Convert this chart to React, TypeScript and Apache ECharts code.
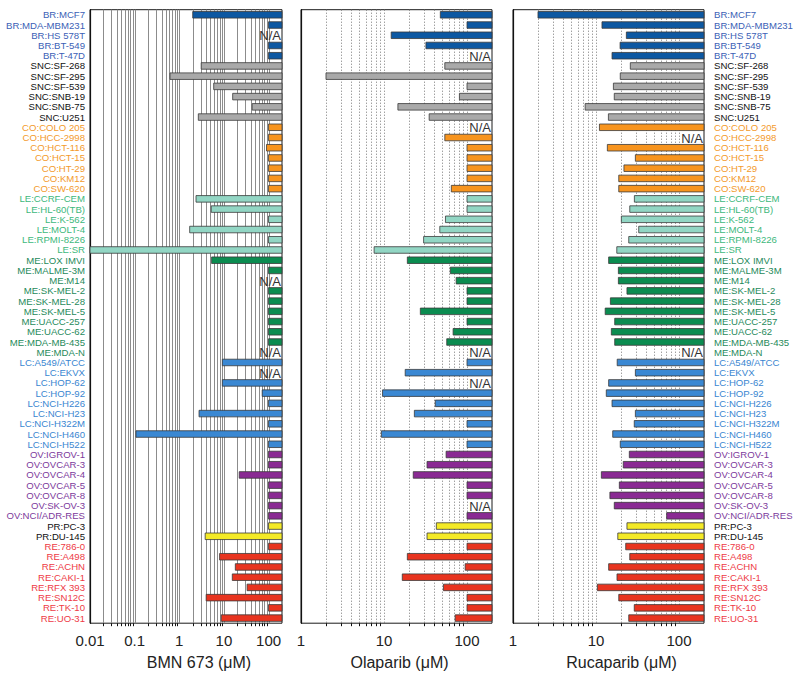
import React, { useEffect, useRef } from "react";
import * as echarts from "echarts";

const CELL_LINES = [
  "BR:MCF7", "BR:MDA-MBM231", "BR:HS 578T", "BR:BT-549", "BR:T-47D",
  "SNC:SF-268", "SNC:SF-295", "SNC:SF-539", "SNC:SNB-19", "SNC:SNB-75", "SNC:U251",
  "CO:COLO 205", "CO:HCC-2998", "CO:HCT-116", "CO:HCT-15", "CO:HT-29", "CO:KM12", "CO:SW-620",
  "LE:CCRF-CEM", "LE:HL-60(TB)", "LE:K-562", "LE:MOLT-4", "LE:RPMI-8226", "LE:SR",
  "ME:LOX IMVI", "ME:MALME-3M", "ME:M14", "ME:SK-MEL-2", "ME:SK-MEL-28", "ME:SK-MEL-5",
  "ME:UACC-257", "ME:UACC-62", "ME:MDA-MB-435", "ME:MDA-N",
  "LC:A549/ATCC", "LC:EKVX", "LC:HOP-62", "LC:HOP-92", "LC:NCI-H226", "LC:NCI-H23",
  "LC:NCI-H322M", "LC:NCI-H460", "LC:NCI-H522",
  "OV:IGROV-1", "OV:OVCAR-3", "OV:OVCAR-4", "OV:OVCAR-5", "OV:OVCAR-8", "OV:SK-OV-3", "OV:NCI/ADR-RES",
  "PR:PC-3", "PR:DU-145",
  "RE:786-0", "RE:A498", "RE:ACHN", "RE:CAKI-1", "RE:RFX 393", "RE:SN12C", "RE:TK-10", "RE:UO-31",
];

// IC50 (µM); null = N/A; 100 = inactive (>=100)
const BMN673 = [
  2, 100, null, 100, 100,
  3.1, 0.62, 5.9, 15.7, 43, 2.67,
  100, 100, 90, 100, 100, 100, 100,
  2.37, 5.2, 100, 1.71, 100, 0.01,
  5.3, 100, null, 100, 100, 100, 100, 100, 100, null,
  9.2, null, 9.2, 72, 100, 2.77, 100, 0.107, 100,
  100, 100, 22, 100, 100, 100, 100,
  100, 3.8,
  100, 8.0, 18, 15.4, 33, 4.0, 100, 8.7,
];
const OLAPARIB = [
  47.7, 100, 12.2, 32, null,
  54, 2, 100, 81, 14.7, 35,
  null, 54, 100, 100, 100, 100, 64.7,
  100, 100, 55, 47, 30, 7.6,
  19.1, 63, 74, 100, 100, 27.4, 100, 68, 57, null,
  100, 18, null, 9.6, 41.5, 23.2, 100, 9.3, 100,
  56, 33, 22.5, 100, 100, null, 100,
  42.7, 33,
  100, 19.1, 95, 16.6, 52, 100, 100, 72,
];
const RUCAPARIB = [
  2, 11.8, 23.2, 19.5, 15.6,
  25.9, 19.6, 16.2, 16.6, 7.4, 14.1,
  11, null, 13.7, 29.8, 21.7, 18.8, 18.8,
  29, 25.5, 20.2, 32.7, 24.8, 17.8,
  14.2, 18.6, 18.6, 23.6, 14.9, 12.9, 16.8, 15.3, 16.8, null,
  18, 29.8, 14.2, 13.3, 15.6, 29.8, 28.9, 15.9, 19.6,
  25.2, 21.3, 11.6, 19.1, 14.7, 16.6, 71,
  23.6, 18.3,
  22.8, 25.5, 14.2, 17.9, 10.4, 18.8, 28.9, 24.8,
];

const PANEL_NAMES = ["BMN 673 (\u03bcM)", "Olaparib (\u03bcM)", "Rucaparib (\u03bcM)"];
const PANEL_MIN = [0.01, 1, 1];
const AXIS_MAX = 200;
const MANTISSAS = [1, 2, 3, 4, 5, 6, 7, 8, 9];

const BAR_COLORS: Record<string, string> = {
  BR: "#0d58a2", SNC: "#a9a9a9", CO: "#f7941e", LE: "#92d6c4", ME: "#0b8c50",
  LC: "#3a88d3", OV: "#8a2a93", PR: "#f4ea26", RE: "#e8341f",
};
const LABEL_COLORS: Record<string, string> = {
  BR: "#3c5fb6", SNC: "#111111", CO: "#f39a2c", LE: "#3db87c", ME: "#1f8a5b",
  LC: "#3a86d1", OV: "#7d3a9c", PR: "#111111", RE: "#ee3a46",
};

const groupOf = (name: string) => name.split(":")[0];

const GRID_LEFT = [90, 301, 513];
const GRID_WIDTH = [192, 191, 191];
const GRID_TOP = 9.7;
const GRID_HEIGHT = 613.5;
const FONT = "'Liberation Sans', Arial, Helvetica, sans-serif";

function gridValues(min: number) {
  const out: number[] = [];
  for (let e = Math.round(Math.log10(min)); e <= 2; e++) {
    for (const m of MANTISSAS) {
      const v = parseFloat((m * Math.pow(10, e)).toPrecision(6));
      if (v > min && v <= 100) out.push(v);
    }
  }
  return out;
}

export default function App() {
  const ref = useRef<HTMLDivElement>(null);
  useEffect(() => {
    if (!ref.current) return;
    const chart = echarts.init(ref.current, undefined, { renderer: "svg" });
    const panels = [BMN673, OLAPARIB, RUCAPARIB];

    const grid = panels.map((_, i) => ({
      left: GRID_LEFT[i], width: GRID_WIDTH[i], top: GRID_TOP, height: GRID_HEIGHT,
      show: true, borderColor: "#1a1a1a", borderWidth: 1, backgroundColor: "transparent",
    }));

    const xAxis = panels.map((_, i) => ({
      type: "log", gridIndex: i, logBase: 10, min: PANEL_MIN[i], max: AXIS_MAX,
      splitLine: { show: false },
      axisLine: { lineStyle: { color: "#111", width: 1.2 } },
      axisTick: { length: 5, lineStyle: { color: "#111", width: 1 } },
      axisLabel: {
        fontSize: 15, color: "#222", margin: 10, fontFamily: FONT, showMaxLabel: false,
        formatter: (v: number) => String(parseFloat(Number(v).toPrecision(6))),
      },
      name: PANEL_NAMES[i], nameLocation: "middle", nameGap: 31,
      nameTextStyle: { fontSize: 16, color: "#222", fontFamily: FONT, padding: [0, 0, 0, i === 1 ? 6 : 26] },
    }));

    const yAxis: any[] = panels.map((_, i) => ({
      type: "category", gridIndex: i, data: CELL_LINES, inverse: true,
      axisLine: { lineStyle: { color: "#111", width: 1.2 } },
      axisTick: { alignWithLabel: true, length: 4, lineStyle: { color: "#111" } },
      axisLabel: {
        show: i === 0, interval: 0, fontSize: 9.6, fontFamily: FONT, margin: 5,
        color: (_v: string, idx: number) => LABEL_COLORS[groupOf(CELL_LINES[idx])],
      },
      splitLine: { show: false },
    }));
    yAxis.push({
      type: "category", gridIndex: 2, data: CELL_LINES, inverse: true, position: "right",
      axisLine: { show: false }, axisTick: { show: false }, splitLine: { show: false },
      axisLabel: {
        interval: 0, fontSize: 9.6, fontFamily: FONT, margin: 10,
        color: (_v: string, idx: number) => LABEL_COLORS[groupOf(CELL_LINES[idx])],
      },
    });

    const series: any[] = [];
    panels.forEach((vals, i) => {
      const solid = i === 0;
      series.push({
        type: "custom", xAxisIndex: i, yAxisIndex: i, z: 1, silent: true,
        data: gridValues(PANEL_MIN[i]).map((v) => [v, 0]),
        renderItem: (params: any, api: any) => {
          const cs = params.coordSys;
          const x = Math.round(api.coord([api.value(0), 0])[0]) + 0.5;
          const isMajor = Math.abs(Math.log10(api.value(0)) - Math.round(Math.log10(api.value(0)))) < 1e-6;
          const children: any[] = [{
            type: "line",
            shape: { x1: x, y1: cs.y, x2: x, y2: cs.y + cs.height },
            style: solid
              ? { stroke: "#8c8c8c", lineWidth: 1 }
              : { stroke: "#777", lineWidth: 1, lineDash: [1, 2] },
          }];
          if (!isMajor) {
            children.push({
              type: "line",
              shape: { x1: x, y1: cs.y + cs.height, x2: x, y2: cs.y + cs.height + 3 },
              style: { stroke: "#111", lineWidth: 1 },
            });
          }
          return { type: "group", children };
        },
      });
      const barData: any[] = [];
      const naData: any[] = [];
      vals.forEach((v, idx) => {
        if (v === null) naData.push([AXIS_MAX, idx]);
        else barData.push({ value: [v, idx], itemStyle: { color: BAR_COLORS[groupOf(CELL_LINES[idx])] } });
      });
      series.push({
        type: "custom", xAxisIndex: i, yAxisIndex: i, z: 3, silent: true,
        encode: { x: 0, y: 1 },
        data: barData,
        renderItem: (params: any, api: any) => {
          const cs = params.coordSys;
          const band = cs.height / CELL_LINES.length;
          const idx = api.value(1);
          const start = api.coord([api.value(0), idx]);
          const end = api.coord([AXIS_MAX, idx]);
          const h = band * 0.64;
          return {
            type: "rect",
            shape: { x: start[0], y: start[1] - h / 2, width: end[0] - start[0], height: h },
            style: { fill: api.visual("color"), stroke: "#3a3a3a", lineWidth: 0.8 },
          };
        },
      });
      series.push({
        type: "custom", xAxisIndex: i, yAxisIndex: i, z: 3, silent: true,
        encode: { x: 0, y: 1 },
        data: naData,
        renderItem: (_params: any, api: any) => {
          const p = api.coord([api.value(0), api.value(1)]);
          return {
            type: "text",
            x: p[0] - 1, y: p[1] + 0.5,
            style: {
              text: "N/A", fill: "#333", fontSize: 13, fontFamily: FONT,
              align: "right", verticalAlign: "middle",
            },
          };
        },
      });
    });

    chart.setOption({
      animation: false,
      backgroundColor: "#ffffff",
      grid, xAxis, yAxis, series,
    });
    return () => chart.dispose();
  }, []);
  return (
    <div
      ref={ref}
      style={{ position: "absolute", left: 0, top: 0, width: 800, height: 680 }}
    />
  );
}
